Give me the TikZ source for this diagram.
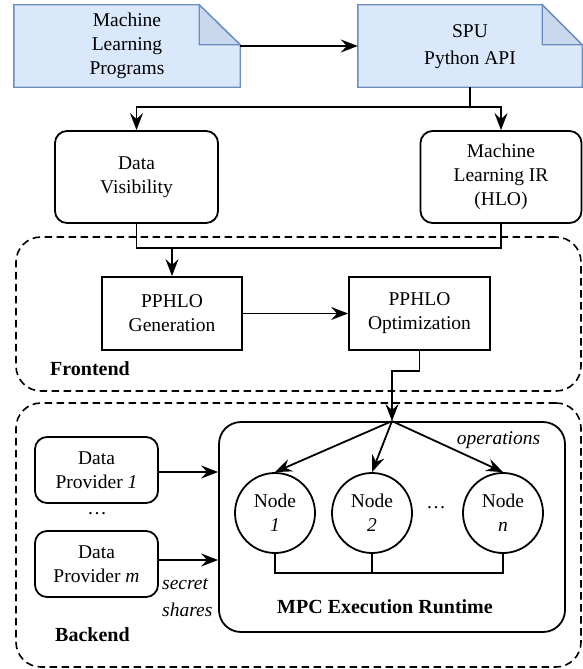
\documentclass[tikz,border=0pt]{standalone}
\usepackage{fontspec}
\setmainfont{Liberation Serif}
\usetikzlibrary{arrows.meta}
\definecolor{docfill}{HTML}{DAE8FC}
\definecolor{docline}{HTML}{6C8EBF}
\definecolor{foldfill}{HTML}{C9D8EC}
\begin{document}
\begin{tikzpicture}[x=1pt,y=-1pt,
  every node/.style={font=\rmfamily\fontsize{19.5}{24}\selectfont, align=center, inner sep=0pt},
  docbox/.style={rectangle, minimum width=#1, minimum height=82pt},
  docshape/.style={fill=docfill, draw=docline, line width=1.4pt, line join=miter},
  foldshape/.style={fill=foldfill, draw=docline, line width=1.4pt},
  rbox/.style={draw, rounded corners=12pt, line width=1.8pt},
  sbox/.style={draw, line width=1.8pt},
  circ/.style={draw, circle, minimum size=80pt, line width=1.8pt},
  group/.style={draw, dash pattern=on 7.5pt off 4.5pt, rounded corners=25pt, line width=1.6pt},
  conn/.style={line width=1.8pt},
  arr/.style={conn, -{Stealth[length=17pt, width=13pt, inset=6pt]}},
  thinarr/.style={line width=1.1pt, -{Stealth[length=17pt, width=13pt, inset=6pt]}},
  lbl/.style={font=\rmfamily\fontsize{20}{24}\selectfont\bfseries},
  itl/.style={font=\rmfamily\fontsize{19.5}{27}\selectfont\itshape}
]
\useasboundingbox (0,0) rectangle (583,669);

% groups
\node[group, minimum width=565pt, minimum height=154pt] (fe) at (298.5,314) {};
\node[group, minimum width=565pt, minimum height=264pt] (be) at (298.5,535) {};

% documents
\node[docbox=226pt] (ml) at (127,46) {};
\path[docshape] (ml.north west) -- ([xshift=-41pt]ml.north east) -- ([yshift=-40pt]ml.north east) -- (ml.south east) -- (ml.south west) -- cycle;
\path[foldshape] ([xshift=-41pt]ml.north east) -- ([xshift=-41pt,yshift=-40pt]ml.north east) -- ([yshift=-40pt]ml.north east) -- cycle;
\node (mltext) at (ml.center) {Machine\\Learning\\Programs};

\node[docbox=224pt] (spu) at (470,46) {};
\path[docshape] (spu.north west) -- ([xshift=-40pt]spu.north east) -- ([yshift=-40pt]spu.north east) -- (spu.south east) -- (spu.south west) -- cycle;
\path[foldshape] ([xshift=-40pt]spu.north east) -- ([xshift=-40pt,yshift=-40pt]spu.north east) -- ([yshift=-40pt]spu.north east) -- cycle;
\node[font=\rmfamily\fontsize{19.5}{27}\selectfont] (sputext) at ([yshift=-1pt]spu.center) {SPU\\Python API};

% boxes
\node[rbox, minimum width=163pt, minimum height=92pt] (dv) at (136.5,177) {Data\\Visibility};
\node[rbox, minimum width=161pt, minimum height=92pt] (mlir) at (501,177) {Machine\\Learning IR\\(HLO)};
\node[sbox, minimum width=140pt, minimum height=73pt] (gen) at (172,313.5) {PPHLO\\Generation};
\node[sbox, minimum width=141pt, minimum height=73pt] (opt) at (419.5,313.5) {PPHLO\\Optimization};

\node[rbox, rounded corners=22pt, minimum width=346pt, minimum height=210pt] (mpc) at (392,527) {};
\node[rbox, minimum width=123pt, minimum height=66pt] (dp1) at (96.5,470) {Data\\Provider \textit{1}};
\node[rbox, minimum width=123pt, minimum height=66pt] (dpm) at (96.5,564) {Data\\Provider \textit{m}};
\node (dots1) at (97,514) {\ldots};

\node[circ] (n1) at (275,513) {Node\\\textit{1}};
\node[circ] (n2) at (372,513) {Node\\\textit{2}};
\node[circ] (nn) at (503,513) {Node\\\textit{n}};
\node (dots2) at (436,508) {\ldots};

% labels
\node[lbl, anchor=west] (felbl) at (50,369) {Frontend};
\node[lbl, anchor=west] (belbl) at (55,635) {Backend};
\node[lbl] (mpclbl) at (385,607) {MPC Execution Runtime};
\node[itl] (ops) at (498.5,440) {operations};
\node[itl, align=left, anchor=west] (ss) at (162,598) {secret\\shares};

% connectors
\draw[arr] (ml.east) -- (spu.west);
\draw[arr] (spu.south) -- ++(0,20) -| (dv.north);
\draw[arr] (spu.south) -- ++(0,20) -| (mlir.north);
\coordinate (jn) at (172,248);
\draw[conn] (dv.south) |- (jn);
\draw[conn] (mlir.south) |- (jn);
\draw[arr] (jn) -- (gen.north);
\draw[thinarr] (gen.east) -- (opt.west);
\draw[arr] (opt.south) -- ++(0,20) -| (mpc.north);
\draw[arr] (mpc.north) -- (n1.north);
\draw[arr] (mpc.north) -- (n2.north);
\draw[arr] (mpc.north) -- (nn.north);
\draw[conn] (n1.south) -- ++(0,19) -| (nn.south);
\draw[conn] (n2.south) -- ++(0,19);
\coordinate (a1) at ([yshift=-2pt]dp1.east);
\coordinate (a2) at ([yshift=4pt]dpm.east);
\draw[arr] (a1) -- (a1 -| mpc.west);
\draw[arr] (a2) -- (a2 -| mpc.west);
\end{tikzpicture}
\end{document}
